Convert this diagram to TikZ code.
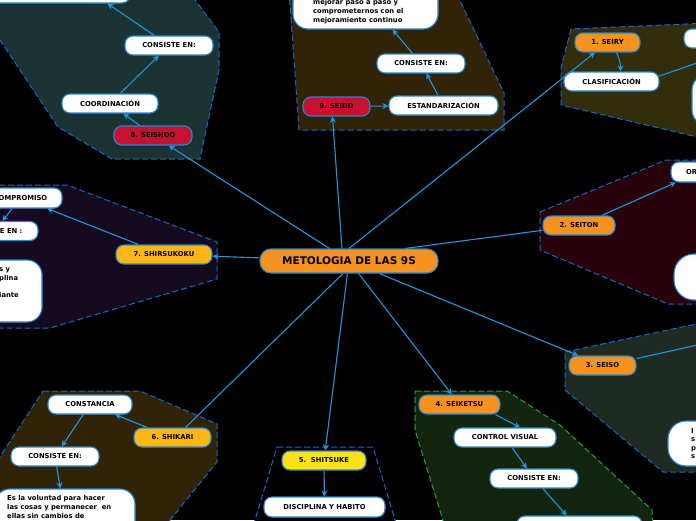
\documentclass[tikz,border=0pt]{standalone}
\usepackage{fontspec}
\setmainfont{DejaVu Sans}
\usetikzlibrary{arrows.meta}
\definecolor{cline}{RGB}{33,150,222}
\definecolor{nborder}{RGB}{40,135,205}
\definecolor{gborder}{RGB}{20,105,200}
\definecolor{ggreenb}{RGB}{30,160,70}
\definecolor{forange}{RGB}{247,146,30}
\definecolor{fcrim}{RGB}{198,17,48}
\definecolor{fyel}{RGB}{253,183,20}
\definecolor{fyelb}{RGB}{255,225,25}
\definecolor{gteal}{RGB}{27,51,51}
\definecolor{gbrown}{RGB}{48,35,8}
\definecolor{golive}{RGB}{50,45,11}
\definecolor{gpurp}{RGB}{21,10,30}
\definecolor{gmaroon}{RGB}{40,3,11}
\definecolor{gslate}{RGB}{31,42,34}
\definecolor{ggrn}{RGB}{19,37,15}
\tikzset{
  smallfont/.style={font=\fontsize{6.8}{8.6}\selectfont\bfseries},
  pill/.style={draw=nborder, line width=1.1pt, rounded corners=8pt, minimum height=19pt, inner sep=0pt, smallfont, text=black},
  wbox/.style={pill, fill=white},
  bigbox/.style={pill, fill=white, rounded corners=15pt},
  orng/.style={pill, fill=forange},
  crim/.style={pill, fill=fcrim},
  yelo/.style={pill, fill=fyel},
  yelb/.style={pill, fill=fyelb},
  txt/.style={smallfont, align=left, inner sep=0pt, text=black},
  conn/.style={draw=cline, line width=1.1pt, -{Stealth[length=6pt,width=6pt]}},
  plainc/.style={draw=cline, line width=1.1pt},
  grp/.style={draw=gborder, line width=1pt, dash pattern=on 6pt off 3pt},
}
\begin{document}
\begin{tikzpicture}[x=1pt,y=-1pt]
\fill[black] (0,0) rectangle (696,520);
\useasboundingbox (0,0) rectangle (696,520);
% group backgrounds
\filldraw[grp, fill=gteal] (-20,-10) -- (187.5,-10) -- (219,32) -- (219,70) -- (200,159) -- (112,159) -- (58,127) -- (-20,10) -- cycle;
\filldraw[grp, fill=gbrown] (289,-10) -- (299,130) -- (504,130) -- (504,93) -- (455,-10) -- cycle;
\filldraw[grp, fill=golive] (571,29) -- (561,68) -- (561,105) -- (710,140) -- (710,23) -- cycle;
\filldraw[grp, fill=gpurp] (-10,185) -- (67,185) -- (217,242) -- (217,279) -- (50,328) -- (-10,328) -- cycle;
\filldraw[grp, fill=gmaroon] (540,212) -- (666,160) -- (710,160) -- (710,304) -- (668,304) -- (540,250) -- cycle;
\filldraw[grp, fill=gslate] (565,352) -- (710,321) -- (710,472) -- (663,472) -- (565,390) -- cycle;
\filldraw[grp, draw=ggreenb, fill=ggrn] (415,391) -- (507,391) -- (560,425) -- (652,510) -- (653,530) -- (446,530) -- (415,430) -- cycle;
\filldraw[grp, fill=black] (277,447) -- (373,447) -- (398,530) -- (252,530) -- cycle;
\filldraw[grp, fill=gbrown] (43,391) -- (140,391) -- (217,424) -- (217,462) -- (162,530) -- (-10,530) -- (-10,472) -- cycle;
% central node
\node[orng, minimum width=178pt, minimum height=24pt, rounded corners=11pt, font=\fontsize{10.5}{12}\selectfont\bfseries] (main) at (349,261) {METOLOGIA DE LAS 9S};
% 8 SEISHOO
\node[wbox, minimum width=140pt, minimum height=22pt] (tlbox) at (60,-8) {};
\node[wbox, minimum width=88pt] (tlcons) at (169,45.5) {CONSISTE EN:};
\node[wbox, minimum width=96pt] (coord) at (110,103.5) {COORDINACIÓN};
\node[crim, minimum width=78pt] (seishoo) at (153,135.5) {8. SEISHOO};
% 9 SEIDO
\node[bigbox, minimum width=145pt, minimum height=45pt] (tmbox) at (365.5,6.5) {};
\node[txt, anchor=north west] (tmtext) at (313,-0.5) {mejorar paso a paso y\\comprometernos con el\\mejoramiento continuo};
\node[wbox, minimum width=88pt] (tmcons) at (421,63.5) {CONSISTE EN:};
\node[wbox, minimum width=109pt] (estand) at (443.5,105.5) {ESTANDARIZACIÓN};
\node[crim, minimum width=67pt] (seido) at (336.5,106.5) {9. SEIDO};
% 1 SEIRY
\node[orng, minimum width=65pt] (seiry) at (607.5,42.5) {1. SEIRY};
\node[wbox, minimum width=95pt] (clasif) at (611.5,81.5) {CLASIFICACIÓN};
\node[wbox, minimum width=56pt] (trboxa) at (712,38.5) {};
\node[bigbox, minimum width=68pt, minimum height=50pt] (trboxb) at (726,100) {};
\coordinate (trout) at (720,55);
% 7 SHIRSUKOKU
\node[wbox, minimum width=83pt, minimum height=20pt] (compr) at (20.5,198) {COMPROMISO};
\node[wbox, minimum width=87pt] (lcons) at (-5.5,231) {CONSISTE EN :};
\node[bigbox, minimum width=82pt, minimum height=62pt] (lbig) at (1,291) {};
\node[txt, anchor=north west] (lbigt) at (-1,267.5) {s y\\plina\\\\iante};
\node[yelo, minimum width=96pt] (shirs) at (164,254.5) {7. SHIRSUKOKU};
% 2 SEITON
\node[orng, minimum width=72pt] (seiton) at (579,225.5) {2. SEITON};
\node[wbox, minimum width=57pt, minimum height=20pt] (orbox) at (699.5,172) {ORDEN};
\node[bigbox, rounded corners=20pt, minimum width=92pt, minimum height=46pt] (rmbig) at (720,277) {};
% 3 SEISO
\node[orng, minimum width=67pt] (seiso) at (602.5,365.5) {3. SEISO};
\node[bigbox, rounded corners=18pt, minimum width=104pt, minimum height=45pt] (sbig) at (720,443.5) {};
\node[txt, anchor=north west] (sbigt) at (691,428) {I\\s\\p\\s};
\coordinate (seisoout) at (720,340);
% 4 SEIKETSU
\node[orng, minimum width=81pt] (seiket) at (459.5,404.5) {4. SEIKETSU};
\node[wbox, minimum width=102pt] (ctrl) at (505,437.5) {CONTROL VISUAL};
\node[wbox, minimum width=88pt] (kcons) at (534,478.5) {CONSISTE EN:};
\node[wbox, minimum width=125pt, minimum height=28pt] (kbox) at (579.5,530) {};
% 5 SHITSUKE
\node[yelb, minimum width=84pt] (shitsu) at (324,460.5) {5.\ \ SHITSUKE};
\node[wbox, minimum width=121pt, minimum height=20pt] (disc) at (324.5,507) {DISCIPLINA Y HABITO};
% 6 SHIKARI
\node[yelo, minimum width=77pt] (shikari) at (172.5,437.5) {6. SHIKARI};
\node[wbox, minimum width=84pt] (const) at (90,404.5) {CONSTANCIA};
\node[wbox, minimum width=88pt] (bcons) at (55,456.5) {CONSISTE EN:};
\node[bigbox, minimum width=140pt, minimum height=56pt] (bbox) at (65,517) {};
\node[txt, anchor=north west] (bboxt) at (7,495.5) {Es la voluntad para hacer\\las cosas y permanecer\ \ en\\ellas sin cambios de};
% connectors from main
\draw[conn] (main) -- (seishoo);
\draw[conn] ([xshift=-7pt]main.north) -- ([xshift=-4pt]seido.south);
\draw[conn] (main.north) -- (seiry);
\draw[plainc] ([xshift=56pt]main.north) -- (seiton);
\draw[conn] (main) -- (seiso);
\draw[conn] (main) -- (seiket);
\draw[conn] (main) -- (shitsu);
\draw[plainc] ([xshift=-6pt]main.south) -- ([xshift=13pt]shikari.north);
\draw[conn] (main) -- (shirs);
% inner connectors
\draw[conn] (seishoo) -- (coord);
\draw[conn] (coord) -- (tlcons);
\draw[conn] (tlcons) -- ([xshift=-23pt]tlbox.south east);
\draw[conn] (seido) -- (estand);
\draw[conn] (estand) -- (tmcons);
\draw[conn] (tmcons) -- ([xshift=27pt]tmbox.south);
\draw[conn] ([xshift=9pt]seiry.south) to[bend left=12] ([xshift=9pt]clasif.north);
\draw[plainc] ([yshift=5.5pt]clasif.east) -- (trout);
\draw[conn] (shirs) -- (compr);
\draw[conn] (compr) -- (lcons);
\draw[conn] (seiton) -- (orbox);
\draw[plainc] ([yshift=7pt]seiso.east) -- (seisoout);
\draw[conn] ([xshift=-5pt]seiket.south east) -- ([xshift=15pt]ctrl.north);
\draw[conn] (ctrl) -- (kcons);
\draw[conn] (kcons) -- (kbox);
\draw[conn] (shitsu) -- (disc);
\draw[conn] (shikari) -- (const);
\draw[conn] (const) -- (bcons);
\draw[conn] (bcons) -- (bbox);
\end{tikzpicture}
\end{document}
